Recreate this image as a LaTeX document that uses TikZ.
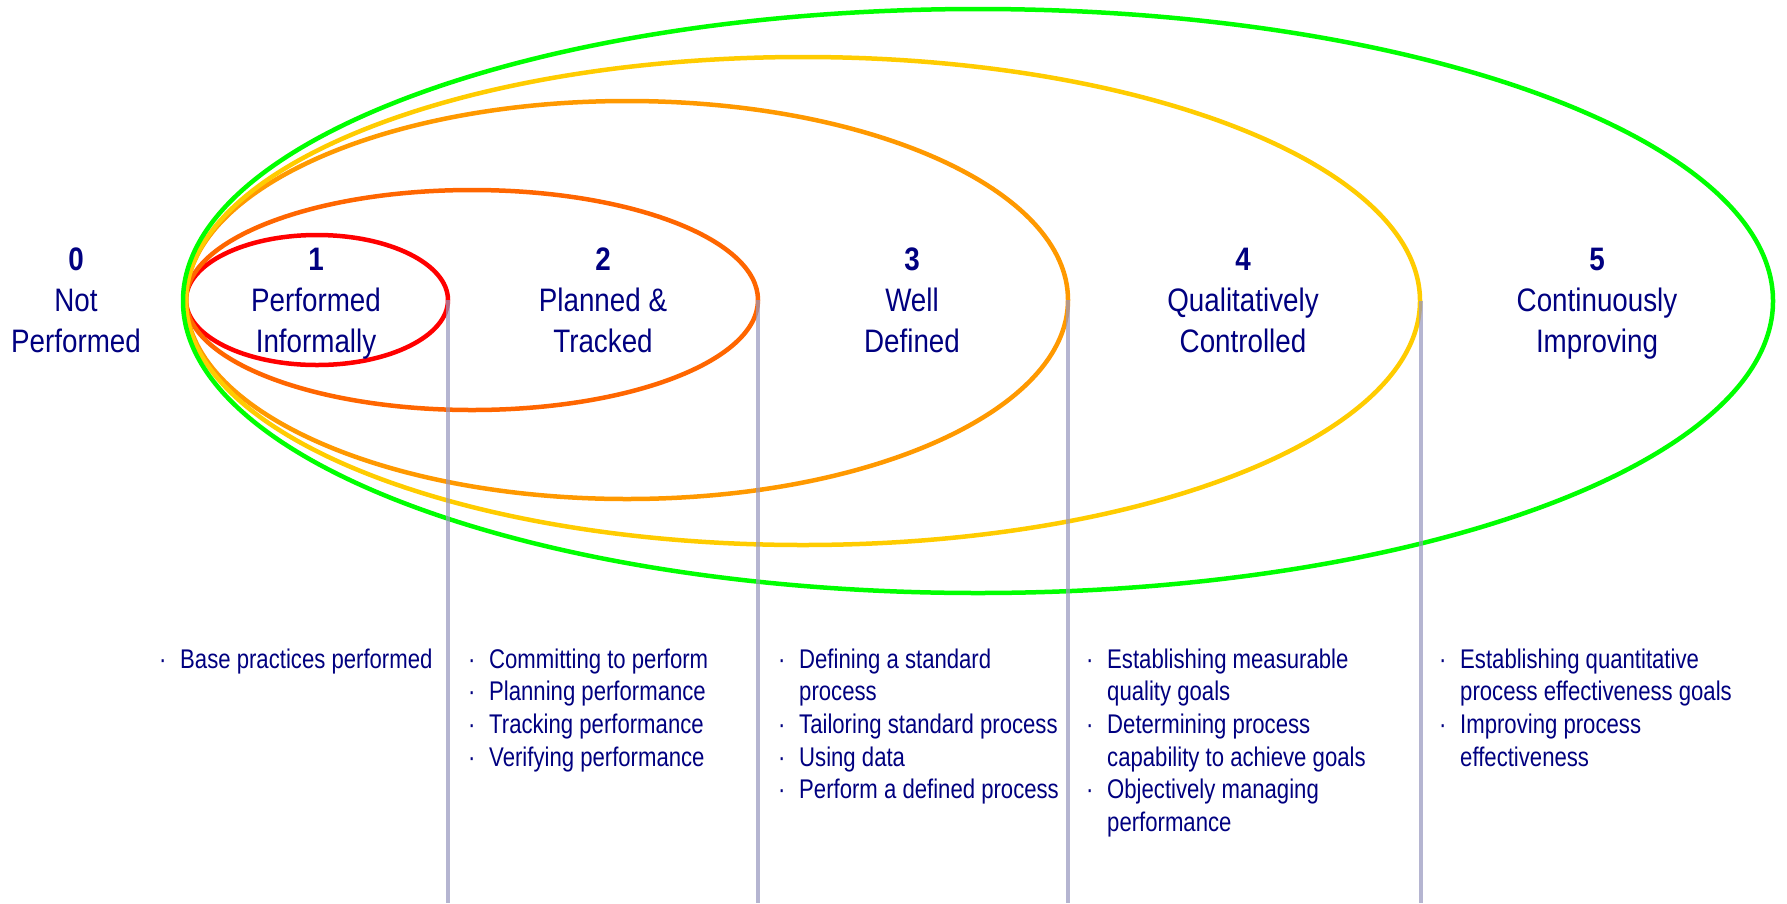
\documentclass[tikz,border=0pt]{standalone}
\usepackage{fontspec}
\setmainfont{Liberation Sans}
\newfontfamily\lvtitlefont{Liberation Sans}[FakeStretch=0.855]
\newfontfamily\lvitemfont{Liberation Sans}[FakeStretch=0.82]
\definecolor{lvlnavy}{RGB}{0,0,128}
\definecolor{lvred}{RGB}{255,0,0}
\definecolor{lvdorange}{RGB}{255,102,0}
\definecolor{lvorange}{RGB}{255,153,0}
\definecolor{lvyellow}{RGB}{255,204,0}
\definecolor{lvgreen}{RGB}{0,255,0}
\definecolor{guidegray}{RGB}{150,150,190}
\newcommand\lvbul{\makebox[21pt][l]{·}}
\tikzset{
  ring/.style={line width=4.5pt},
  guide/.style={line width=4.5pt, draw=guidegray, draw opacity=0.7},
  lvtitle/.style={anchor=base, text=lvlnavy, inner sep=0pt, font=\lvtitlefont\fontsize{32.5}{41}\selectfont},
  lvitems/.style={anchor=base west, text=lvlnavy, inner sep=0pt, font=\lvitemfont\fontsize{27}{32.7}\selectfont},
}
\begin{document}
\begin{tikzpicture}[x=1pt,y=-1pt]
\useasboundingbox[fill=white] (0,0) rectangle (1787,903);
% rings, innermost first
\draw[ring, lvred]     (317,300) ellipse [x radius=131, y radius=65];
\draw[ring, lvdorange] (472,300) ellipse [x radius=286, y radius=110];
\draw[ring, lvorange]  (627,300) ellipse [x radius=441, y radius=199];
\draw[ring, lvyellow]  (803,301) ellipse [x radius=617, y radius=244];
\draw[ring, lvgreen]   (978,301) ellipse [x radius=795, y radius=292];
% guide lines
\coordinate (r1) at (448,300);  \coordinate (b1) at (448,903);
\coordinate (r2) at (758,300);  \coordinate (b2) at (758,903);
\coordinate (r3) at (1068,300); \coordinate (b3) at (1068,903);
\coordinate (r4) at (1421,301); \coordinate (b4) at (1421,903);
\draw[guide] (r1) -- (b1);
\draw[guide] (r2) -- (b2);
\draw[guide] (r3) -- (b3);
\draw[guide] (r4) -- (b4);
% level titles
\node[lvtitle] (t0) at (76,270)   {\begin{tabular}[t]{@{}c@{}}\textbf{0}\\Not\\Performed\end{tabular}};
\node[lvtitle] (t1) at (316,270)  {\begin{tabular}[t]{@{}c@{}}\textbf{1}\\Performed\\Informally\end{tabular}};
\node[lvtitle] (t2) at (603,270)  {\begin{tabular}[t]{@{}c@{}}\textbf{2}\\Planned \&\\Tracked\end{tabular}};
\node[lvtitle] (t3) at (912,270)  {\begin{tabular}[t]{@{}c@{}}\textbf{3}\\Well\\Defined\end{tabular}};
\node[lvtitle] (t4) at (1243,270) {\begin{tabular}[t]{@{}c@{}}\textbf{4}\\Qualitatively\\Controlled\end{tabular}};
\node[lvtitle] (t5) at (1597,270) {\begin{tabular}[t]{@{}c@{}}\textbf{5}\\Continuously\\Improving\end{tabular}};
% practices
\node[lvitems] (p1) at (159,668) {\begin{tabular}[t]{@{}l@{}l@{}}
\lvbul & Base practices performed\end{tabular}};
\node[lvitems] (p2) at (468,668) {\begin{tabular}[t]{@{}l@{}l@{}}
\lvbul & Committing to perform\\
\lvbul & Planning performance\\
\lvbul & Tracking performance\\
\lvbul & Verifying performance\end{tabular}};
\node[lvitems] (p3) at (778,668) {\begin{tabular}[t]{@{}l@{}l@{}}
\lvbul & Defining a standard\\
       & process\\
\lvbul & Tailoring standard process\\
\lvbul & Using data\\
\lvbul & Perform a defined process\end{tabular}};
\node[lvitems] (p4) at (1086,668) {\begin{tabular}[t]{@{}l@{}l@{}}
\lvbul & Establishing measurable\\
       & quality goals\\
\lvbul & Determining process\\
       & capability to achieve goals\\
\lvbul & Objectively managing\\
       & performance\end{tabular}};
\node[lvitems] (p5) at (1439,668) {\begin{tabular}[t]{@{}l@{}l@{}}
\lvbul & Establishing quantitative\\
       & process effectiveness goals\\
\lvbul & Improving process\\
       & effectiveness\end{tabular}};
\end{tikzpicture}
\end{document}
